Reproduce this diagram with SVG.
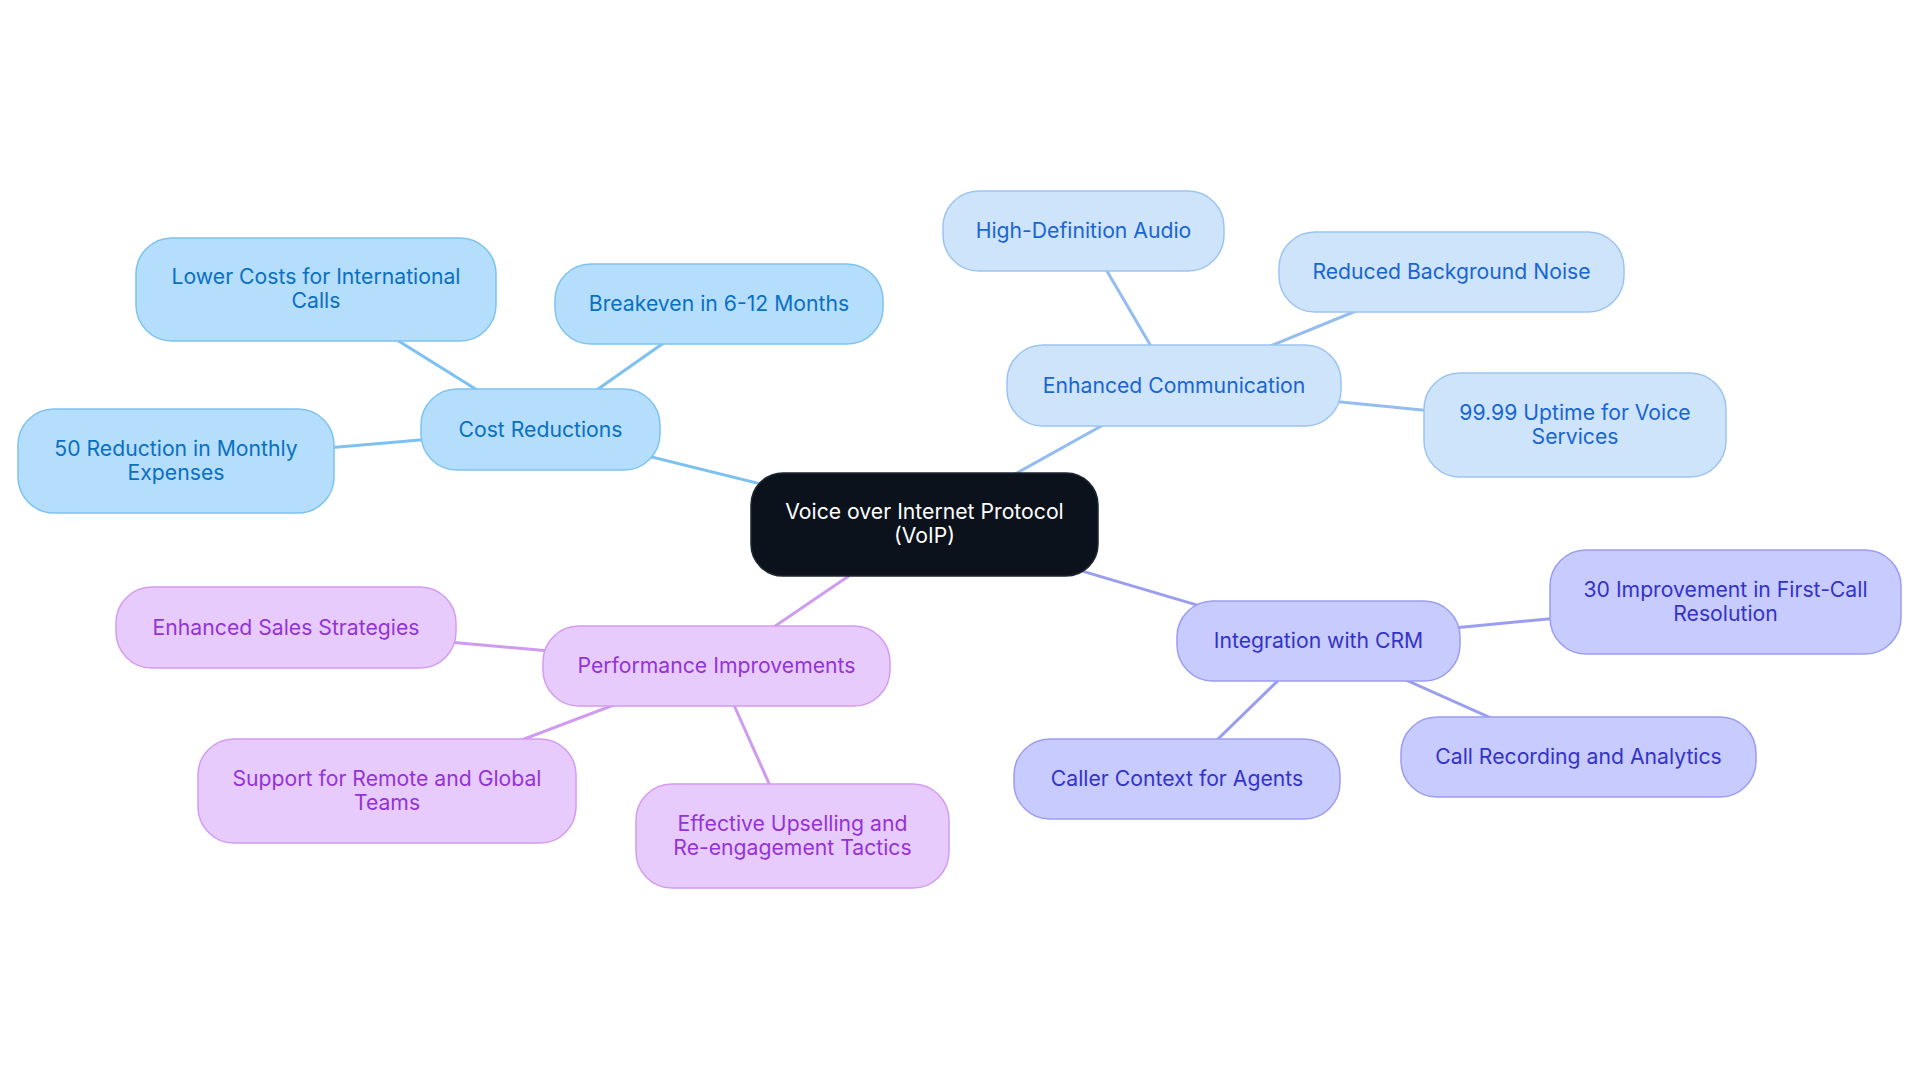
<svg xmlns="http://www.w3.org/2000/svg" width="1920" height="1083" viewBox="0 0 1920 1083">
<style>
text{font-family:Inter,"Noto Sans","DejaVu Sans",sans-serif;font-size:21.2px;text-anchor:middle;dominant-baseline:central}
.e{stroke-width:3;fill:none}
.ea{stroke:#7cc1f0}.eb{stroke:#93bdf0}.ec{stroke:#9a9ef0}.ed{stroke:#cf9af0}
.na rect{fill:#b4defc;stroke:#7dc2f0;stroke-width:1.5}.na text{fill:#0b6fc0}
.nb rect{fill:#cde4fb;stroke:#9cc4f2;stroke-width:1.5}.nb text{fill:#1a65d0}
.nc rect{fill:#c8cbfd;stroke:#9a9df2;stroke-width:1.5}.nc text{fill:#3333c8}
.nd rect{fill:#e8cbfd;stroke:#d39bf2;stroke-width:1.5}.nd text{fill:#9333d6}
.root rect{fill:#0c121c;stroke:#1e2630;stroke-width:1.5}.root text{fill:#ffffff}
</style>
<g id="connectors">
<line class="e ea" x1="924.5" y1="524.5" x2="540.5" y2="429.5"/>
<line class="e ea" x1="540.5" y1="429.5" x2="316" y2="289.5"/>
<line class="e ea" x1="540.5" y1="429.5" x2="719" y2="304"/>
<line class="e ea" x1="540.5" y1="429.5" x2="176" y2="461"/>
<line class="e eb" x1="924.5" y1="524.5" x2="1174" y2="385.5"/>
<line class="e eb" x1="1174" y1="385.5" x2="1083.5" y2="231"/>
<line class="e eb" x1="1174" y1="385.5" x2="1451.5" y2="272"/>
<line class="e eb" x1="1174" y1="385.5" x2="1575" y2="425"/>
<line class="e ec" x1="924.5" y1="524.5" x2="1318.5" y2="641"/>
<line class="e ec" x1="1318.5" y1="641" x2="1725.5" y2="602"/>
<line class="e ec" x1="1318.5" y1="641" x2="1177" y2="779"/>
<line class="e ec" x1="1318.5" y1="641" x2="1578.5" y2="757"/>
<line class="e ed" x1="924.5" y1="524.5" x2="716.5" y2="666"/>
<line class="e ed" x1="716.5" y1="666" x2="286" y2="627.5"/>
<line class="e ed" x1="716.5" y1="666" x2="387" y2="791"/>
<line class="e ed" x1="716.5" y1="666" x2="792.5" y2="836"/>
</g>
<g id="root" class="root"><rect x="751" y="473" width="347" height="103" rx="32"/><text x="924.5" y="511">Voice over Internet Protocol</text><text x="924.5" y="535">(VoIP)</text></g>
<g id="cost" class="na"><rect x="421" y="389" width="239" height="81" rx="36"/><text x="540.5" y="428.5">Cost Reductions</text></g>
<g id="lowercosts" class="na"><rect x="136" y="238" width="360" height="103" rx="36"/><text x="316" y="276">Lower Costs for International</text><text x="316" y="300">Calls</text></g>
<g id="breakeven" class="na"><rect x="555" y="264" width="328" height="80" rx="36"/><text x="719" y="303">Breakeven in 6-12 Months</text></g>
<g id="reduction" class="na"><rect x="18" y="409" width="316" height="104" rx="36"/><text x="176" y="448">50 Reduction in Monthly</text><text x="176" y="472">Expenses</text></g>
<g id="comm" class="nb"><rect x="1007" y="345" width="334" height="81" rx="36"/><text x="1174" y="384.5">Enhanced Communication</text></g>
<g id="hdaudio" class="nb"><rect x="943" y="191" width="281" height="80" rx="36"/><text x="1083.5" y="230">High-Definition Audio</text></g>
<g id="noise" class="nb"><rect x="1279" y="232" width="345" height="80" rx="36"/><text x="1451.5" y="271">Reduced Background Noise</text></g>
<g id="uptime" class="nb"><rect x="1424" y="373" width="302" height="104" rx="36"/><text x="1575" y="412">99.99 Uptime for Voice</text><text x="1575" y="436">Services</text></g>
<g id="crm" class="nc"><rect x="1177" y="601" width="283" height="80" rx="36"/><text x="1318.5" y="640">Integration with CRM</text></g>
<g id="firstcall" class="nc"><rect x="1550" y="550" width="351" height="104" rx="36"/><text x="1725.5" y="589">30 Improvement in First-Call</text><text x="1725.5" y="613">Resolution</text></g>
<g id="caller" class="nc"><rect x="1014" y="739" width="326" height="80" rx="36"/><text x="1177" y="778">Caller Context for Agents</text></g>
<g id="recording" class="nc"><rect x="1401" y="717" width="355" height="80" rx="36"/><text x="1578.5" y="756">Call Recording and Analytics</text></g>
<g id="perf" class="nd"><rect x="543" y="626" width="347" height="80" rx="36"/><text x="716.5" y="665">Performance Improvements</text></g>
<g id="sales" class="nd"><rect x="116" y="587" width="340" height="81" rx="36"/><text x="286" y="626.5">Enhanced Sales Strategies</text></g>
<g id="remote" class="nd"><rect x="198" y="739" width="378" height="104" rx="36"/><text x="387" y="778">Support for Remote and Global</text><text x="387" y="802">Teams</text></g>
<g id="upsell" class="nd"><rect x="636" y="784" width="313" height="104" rx="36"/><text x="792.5" y="823">Effective Upselling and</text><text x="792.5" y="847">Re-engagement Tactics</text></g>
</svg>
